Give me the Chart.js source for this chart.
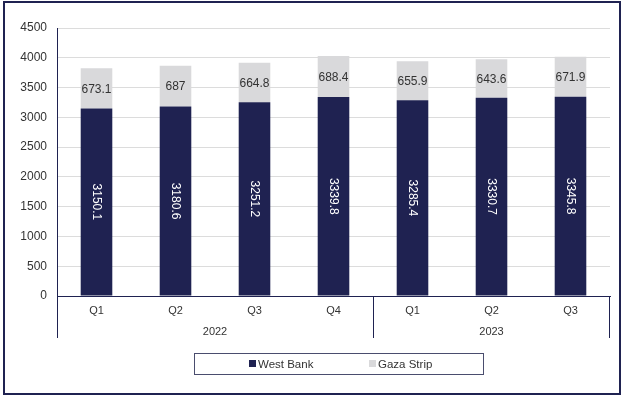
<!DOCTYPE html>
<html>
<head>
<meta charset="utf-8">
<script src="https://cdn.jsdelivr.net/npm/chart.js@4"></script>
<style>
  html, body { margin: 0; padding: 0; background: #fff; }
  #wrap { width: 624px; height: 397px; position: relative; }
</style>
</head>
<body>
<div id="wrap"><canvas id="popChart" width="624" height="397"></canvas></div>
<script>
// data
const quarters = ['Q1', 'Q2', 'Q3', 'Q4', 'Q1', 'Q2', 'Q3'];
const years = ['2022', '2023'];
const quartersPerYear = [4, 3];
const westBank = [3150.1, 3180.6, 3251.2, 3339.8, 3285.4, 3330.7, 3345.8];
const gazaStrip = [673.1, 687, 664.8, 688.4, 655.9, 643.6, 671.9];
const seriesNames = ['West Bank', 'Gaza Strip'];

const NAVY = '#1f2251';
const GRAY = '#d9d9db';
const TEXT = '#333333';
const FAMILY = '"Liberation Sans", Arial, sans-serif';
const FONT = '12px ' + FAMILY;
const SMALL = '11px ' + FAMILY;

// value labels inside the bar segments
const barLabels = {
  id: 'barLabels',
  afterDatasetsDraw(chart) {
    const ctx = chart.ctx;
    ctx.save();
    ctx.font = FONT;
    ctx.textAlign = 'center';
    ctx.textBaseline = 'middle';
    chart.data.datasets.forEach((ds, i) => {
      chart.getDatasetMeta(i).data.forEach((bar, j) => {
        const mid = (bar.y + bar.base) / 2;
        if (i === 0) {
          ctx.save();
          ctx.translate(bar.x, mid);
          ctx.rotate(Math.PI / 2);
          ctx.fillStyle = '#ffffff';
          ctx.fillText(String(ds.data[j]), 0, 0);
          ctx.restore();
        } else {
          ctx.fillStyle = TEXT;
          ctx.fillText(String(ds.data[j]), bar.x, mid + 1);
        }
      });
    });
    ctx.restore();
  }
};

// two level category axis, legend box and outer frame
const frame = {
  id: 'frame',
  afterDraw(chart) {
    const ctx = chart.ctx;
    const area = chart.chartArea;
    const x = chart.scales.x;
    const step = (area.right - area.left) / quarters.length;
    ctx.save();
    ctx.font = SMALL;
    ctx.fillStyle = TEXT;
    ctx.textAlign = 'center';
    ctx.textBaseline = 'middle';
    quarters.forEach((q, i) => {
      ctx.fillText(q, x.getPixelForValue(i), area.bottom + 15);
    });

    ctx.strokeStyle = NAVY;
    ctx.lineWidth = 1;
    let start = 0;
    const sepBottom = area.bottom + 42;
    years.forEach((y, k) => {
      const x0 = area.left + start * step;
      const x1 = x0 + quartersPerYear[k] * step;
      ctx.fillText(y, (x0 + x1) / 2, area.bottom + 35.5);
      ctx.beginPath();
      ctx.moveTo(Math.round(x0) + 0.5, area.bottom);
      ctx.lineTo(Math.round(x0) + 0.5, sepBottom);
      ctx.stroke();
      start += quartersPerYear[k];
    });
    ctx.beginPath();
    ctx.moveTo(Math.round(area.right) - 0.5, area.bottom);
    ctx.lineTo(Math.round(area.right) - 0.5, sepBottom);
    ctx.stroke();

    // legend
    ctx.font = '11.5px ' + FAMILY;
    ctx.strokeStyle = '#4a4d6e';
    ctx.strokeRect(194.5, 353.5, 289, 21);
    const items = [[249, NAVY], [369, GRAY]];
    ctx.textAlign = 'left';
    items.forEach((it, i) => {
      ctx.fillStyle = it[1];
      ctx.fillRect(it[0], 360, 7, 7);
      ctx.fillStyle = TEXT;
      ctx.fillText(seriesNames[i], it[0] + 9, 364.5);
    });

    // outer border
    ctx.strokeStyle = NAVY;
    ctx.lineWidth = 2;
    ctx.strokeRect(4, 2, 616, 392);
    ctx.restore();
  }
};

new Chart(document.getElementById('popChart'), {
  type: 'bar',
  data: {
    labels: quarters,
    datasets: [
      { label: seriesNames[0], data: westBank, backgroundColor: NAVY },
      { label: seriesNames[1], data: gazaStrip, backgroundColor: GRAY }
    ]
  },
  options: {
    responsive: false,
    animation: false,
    devicePixelRatio: 1,
    layout: { padding: { top: 28, right: 14, left: 0, bottom: 0 } },
    datasets: { bar: { categoryPercentage: 1, barPercentage: 0.4 } },
    plugins: {
      legend: { display: false },
      tooltip: { enabled: false }
    },
    scales: {
      x: {
        stacked: true,
        grid: { display: false },
        border: { display: true, color: NAVY },
        ticks: { display: false },
        afterFit(scale) { scale.height = 101; }
      },
      y: {
        stacked: true,
        min: 0,
        max: 4500,
        ticks: {
          stepSize: 500,
          color: TEXT,
          padding: 10,
          font: { family: FAMILY, size: 12 },
          callback: v => String(v)
        },
        grid: { color: '#dcdcdc', drawTicks: false },
        border: { display: true, color: NAVY },
        afterFit(scale) { scale.width = 57; }
      }
    }
  },
  plugins: [barLabels, frame]
});
</script>
</body>
</html>
